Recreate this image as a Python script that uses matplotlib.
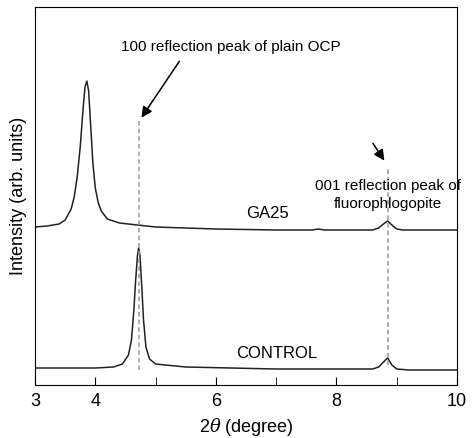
import matplotlib
matplotlib.use("Agg")
import matplotlib.pyplot as plt

plt.rcParams['font.family'] = ['Liberation Sans', 'DejaVu Sans']
plt.rcParams['mathtext.fontset'] = 'dejavuserif'

ga25_x = [3.0, 3.2, 3.4, 3.5, 3.6, 3.65, 3.7, 3.75, 3.8, 3.83, 3.86, 3.89, 3.92, 3.96, 4.0, 4.05, 4.1, 4.2, 4.4, 4.7, 5.0, 6.0, 7.0, 7.6, 7.7, 7.8, 8.6, 8.7, 8.78, 8.85, 8.92, 9.0, 9.1, 10.0]
ga25_y = [158, 159, 161, 165, 176, 188, 208, 238, 278, 298, 304, 294, 263, 222, 197, 182, 174, 166, 162, 160, 158, 156, 155, 155, 156, 155, 155, 157, 161, 164, 160, 156, 155, 155]
ctrl_x = [3.0, 4.0, 4.3, 4.45, 4.55, 4.6, 4.64, 4.67, 4.7, 4.72, 4.74, 4.77, 4.8, 4.84, 4.9, 5.0, 5.5, 7.0, 8.6, 8.7, 8.78, 8.85, 8.92, 9.0, 9.2, 10.0]
ctrl_y = [17, 17, 18, 21, 30, 45, 75, 105, 130, 137, 130, 100, 65, 38, 26, 21, 18, 16, 16, 18, 23, 27, 20, 16, 15, 15]

fig = plt.figure(figsize=(4.74, 4.38), dpi=100)
ax = fig.add_axes([35/474, 1-385/438, 422/474, 378/438])
ax.plot(ga25_x, ga25_y, color='#222222', lw=1.1)
ax.plot(ctrl_x, ctrl_y, color='#222222', lw=1.1)
ax.set_xlim(3, 10)
ax.set_ylim(0, 378)
ax.set_yticks([])
ax.set_xticks([3, 4, 6, 8, 10])
ax.set_xticks([5, 7, 9], minor=True)
ax.tick_params(axis='x', which='both', direction='in', length=6, labelsize=13, pad=6)
ax.set_xlabel(r'2$\theta$ (degree)', fontsize=13)
ax.set_ylabel('Intensity (arb. units)', fontsize=13, labelpad=6)

ax.plot([4.72, 4.72], [15, 265], color='#999999', ls=(0, (3, 2)), lw=1.1)
ax.plot([8.85, 8.85], [20, 218], color='#999999', ls=(0, (3, 2)), lw=1.1)

ax.text(6.25, 338, '100 reflection peak of plain OCP', ha='center', va='center', fontsize=11)
ax.annotate('', xy=(4.74, 265), xytext=(5.42, 326),
            arrowprops=dict(arrowstyle='-|>', color='black', lw=1.1, mutation_scale=16))
ax.text(8.85, 190, '001 reflection peak of\nfluorophlogopite', ha='center', va='center', fontsize=11, linespacing=1.3)
ax.annotate('', xy=(8.82, 222), xytext=(8.58, 244),
            arrowprops=dict(arrowstyle='-|>', color='black', lw=1.1, mutation_scale=16))
ax.text(6.85, 171, 'GA25', ha='center', va='center', fontsize=12)
ax.text(7.01, 31, 'CONTROL', ha='center', va='center', fontsize=12)

fig.savefig('out.png', dpi=100)
